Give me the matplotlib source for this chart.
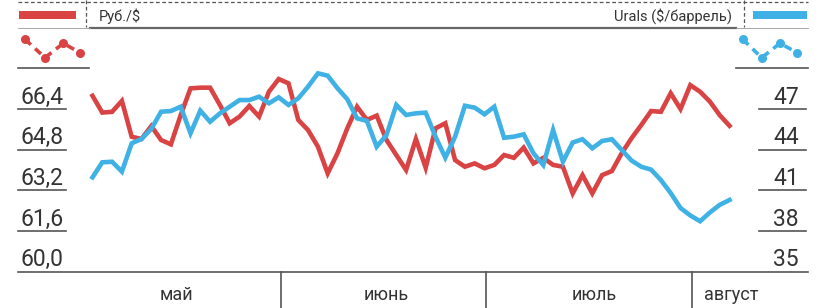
import matplotlib
matplotlib.use("Agg")
import matplotlib.pyplot as plt
from matplotlib.lines import Line2D
from matplotlib.patches import Rectangle
import numpy as np

plt.rcParams['font.family'] = ['Roboto', 'DejaVu Sans']

# daily values, late April .. early August
rub = [66.92, 66.26, 66.29, 66.72, 65.31, 65.22, 65.73, 65.18, 65.01, 66.16,
       67.21, 67.24, 67.24, 66.56, 65.84, 66.10, 66.52, 66.10, 67.08, 67.58,
       67.41, 65.97, 65.57, 64.92, 63.87, 64.66, 65.64, 66.49, 65.97, 66.14,
       65.18, 64.59, 64.00, 65.22, 64.09, 65.64, 65.84, 64.39, 64.13, 64.26,
       64.07, 64.20, 64.59, 64.48, 64.88, 64.26, 64.48, 64.20, 64.13, 63.08,
       63.80, 63.08, 63.80, 63.96, 64.66, 65.25, 65.77, 66.32, 66.29, 67.02,
       66.40, 67.34, 67.08, 66.69, 66.16, 65.74]
urals = [41.96, 43.07, 43.11, 42.38, 44.47, 44.79, 45.53, 46.80, 46.85, 47.17,
         45.21, 46.88, 46.06, 46.68, 47.17, 47.66, 47.66, 47.91, 47.42, 47.86,
         47.30, 47.79, 48.65, 49.63, 49.46, 48.53, 47.72, 46.31, 46.12, 44.22,
         45.08, 47.30, 46.56, 46.68, 46.73, 44.96, 43.41, 44.96, 47.24, 47.10,
         46.61, 47.17, 44.88, 44.96, 45.13, 43.73, 42.87, 45.45, 43.11, 44.53,
         44.77, 44.10, 44.64, 44.77, 43.98, 43.20, 42.74, 42.53, 41.76, 40.80,
         39.70, 39.15, 38.72, 39.37, 39.93, 40.29]

left_ticks = [60.0, 61.6, 63.2, 64.8, 66.4]
right_ticks = [35, 38, 41, 44, 47]
months = ['май', 'июнь', 'июль', 'август']
month_pos = [8.6, 30.0, 51.2]       # label centres (day index)
month_breaks = [19.2, 40.15, 61.14]  # separators (day index)

RED = '#d94343'
BLUE = '#3fb1e5'
TXT = '#333333'
GRID = '#555555'

W, H = 835, 308
fig = plt.figure(figsize=(W / 100, H / 100), dpi=100)


def fx(x):
    return x / W


def fy(y):
    return 1 - y / H


ax = fig.add_axes([fx(18), fy(271.7), (808 - 18) / W, (271.7 - 28) / H])
ax2 = ax.twinx()
for a in (ax, ax2):
    a.set_axis_off()
    a.patch.set_visible(False)

x = np.arange(len(rub))
ax.set_xlim(-7.60, 73.01)
ax.set_ylim(60, 69.587)
ax2.set_ylim(35, 52.975)

ax.plot(x, rub, color=RED, lw=3.3, solid_joinstyle='miter', zorder=3)
ax2.plot(x, urals, color=BLUE, lw=3.3, solid_joinstyle='miter', zorder=2)

# tick marks as underlines + labels
tl = ax.get_yaxis_transform()
tr = ax2.get_yaxis_transform()
for v in left_ticks[1:]:
    ax.plot([0, 0.061], [v, v], transform=tl, color=GRID, lw=1.2, clip_on=False)
for v in right_ticks[1:]:
    ax2.plot([0.938, 0.9975], [v, v], transform=tr, color=GRID, lw=1.2, clip_on=False)
dy = 5.5 * 9.587 / 243.7
for v in left_ticks:
    ax.text(0.0035, v + dy, f'{v:.1f}'.replace('.', ','), transform=tl,
            ha='left', va='baseline', fontsize=16.5, color=TXT)
dy2 = 5.5 * 17.975 / 243.7
for v in right_ticks:
    ax2.text(0.9886, v + dy2, str(v), transform=tr,
             ha='right', va='baseline', fontsize=16.5, color=TXT)

# bottom axis line and month bands
ax.plot([0, 1], [0, 0], transform=ax.transAxes, color=GRID, lw=1.2, clip_on=False)
tb = ax.get_xaxis_transform()
for b in month_breaks:
    ax.plot([b, b], [0, -0.16], transform=tb, color=GRID, lw=1.2, clip_on=False)
for m, p in zip(months[:3], month_pos):
    ax.text(p, -0.116, m, transform=tb, ha='center', va='baseline',
            fontsize=13, color=TXT)
ax.text(62.4, -0.116, months[3], transform=tb, ha='left', va='baseline',
        fontsize=13, color=TXT)

# header
fig.add_artist(Line2D([fx(18), fx(808)], [fy(1.7), fy(1.7)], color=GRID,
                      lw=0.9, ls=(0, (3, 2))))
for xv in (85.7, 744):
    fig.add_artist(Line2D([fx(xv), fx(xv)], [fy(0), fy(27)], color=GRID,
                          lw=0.9, ls=(0, (3, 2))))
fig.add_artist(Line2D([fx(90), fx(736)], [fy(27.7), fy(27.7)], color='#666666', lw=1.6))
fig.add_artist(Line2D([fx(18), fx(90)], [fy(27.7), fy(27.7)], color='#999999', lw=0.6))
fig.add_artist(Line2D([fx(736), fx(808)], [fy(27.7), fy(27.7)], color='#999999', lw=0.6))
fig.add_artist(Rectangle((fx(19), fy(19.3)), fx(57), (19.3 - 11) / H,
                         color=RED, lw=0))
fig.add_artist(Rectangle((fx(753.3), fy(19.3)), fx(53.4), (19.3 - 11) / H,
                         color=BLUE, lw=0))
fig.text(fx(99), fy(16), 'Руб./$', ha='left', va='center', fontsize=10.5, color=TXT)
fig.text(fx(731.7), fy(16), 'Urals ($/баррель)', ha='right', va='center',
         fontsize=10.5, color=TXT)

# legend icons
for xs, col, x0, x1 in (([25, 45, 63.3, 80], RED, 18, 89.3),
                        ([742.7, 761.7, 780, 797.3], BLUE, 736, 808)):
    ys = [39.3, 57.7, 43.3, 52.7]
    fig.add_artist(Line2D([fx(v) for v in xs], [fy(v) for v in ys], color=col,
                          lw=2.6, ls=(0, (2.2, 1.6)), marker='o', ms=6.5,
                          markeredgewidth=0))
    fig.add_artist(Line2D([fx(x0), fx(x1)], [fy(68.3), fy(68.3)],
                          color=GRID, lw=1.2))

fig.savefig('out.png', dpi=100)
